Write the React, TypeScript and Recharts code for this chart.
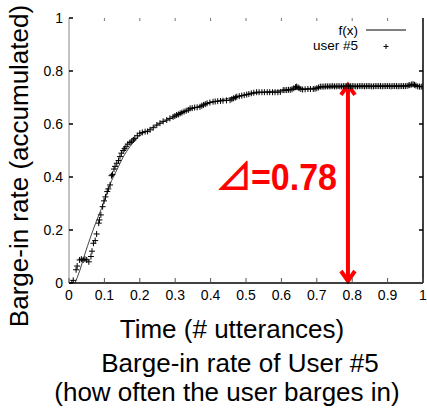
import React from 'react';
import { ComposedChart, Line, Scatter, XAxis, YAxis, ReferenceLine } from 'recharts';

const xTicks = [0, 0.1, 0.2, 0.3, 0.4, 0.5, 0.6, 0.7, 0.8, 0.9, 1];
const yTicks = [0, 0.2, 0.4, 0.6, 0.8, 1];

const fitX = [0.017, 0.03, 0.045, 0.06, 0.075, 0.092, 0.105, 0.116, 0.135, 0.153, 0.172, 0.191, 0.21, 0.23, 0.25, 0.28, 0.31, 0.35, 0.4, 0.45, 0.5, 0.55, 0.6, 0.65, 0.7, 0.8, 0.9, 1.0];
const fitY = [0, 0.045, 0.11, 0.17, 0.225, 0.282, 0.33, 0.372, 0.426, 0.475, 0.514, 0.545, 0.566, 0.582, 0.597, 0.616, 0.635, 0.658, 0.68, 0.697, 0.71, 0.72, 0.727, 0.732, 0.736, 0.74, 0.742, 0.743];

const userX = [
  0.008, 0.012, 0.02, 0.023, 0.03, 0.035, 0.04, 0.045, 0.05, 0.056, 0.062, 0.065, 0.069, 0.074, 0.078, 0.084, 0.086, 0.09, 0.095, 0.099,
  0.103, 0.108, 0.111, 0.116, 0.12, 0.123, 0.127, 0.13, 0.135, 0.14, 0.144, 0.148, 0.153, 0.157, 0.161, 0.166, 0.172, 0.177, 0.182, 0.186,
  0.193, 0.2, 0.207, 0.215, 0.222, 0.229, 0.238, 0.248, 0.257, 0.266, 0.276, 0.285, 0.294, 0.299,
  0.304, 0.309, 0.314, 0.319, 0.325, 0.331, 0.337, 0.342, 0.348, 0.355, 0.362, 0.37, 0.375, 0.38, 0.385, 0.39, 0.398, 0.407, 0.413, 0.42,
  0.428, 0.435, 0.445, 0.455, 0.46, 0.465, 0.47, 0.474, 0.481, 0.488, 0.495, 0.502, 0.508, 0.515, 0.522, 0.53, 0.537, 0.545, 0.552, 0.56,
  0.567, 0.575, 0.582, 0.59, 0.597, 0.605, 0.61, 0.615, 0.62, 0.625, 0.63, 0.635, 0.64, 0.643, 0.647, 0.65, 0.655, 0.66, 0.667, 0.675,
  0.682, 0.69, 0.695, 0.7, 0.705, 0.71, 0.715, 0.72, 0.725, 0.73, 0.735, 0.74, 0.745, 0.75, 0.755, 0.76, 0.765, 0.77, 0.775, 0.78,
  0.785, 0.79, 0.795, 0.8, 0.805, 0.81, 0.815, 0.82, 0.825, 0.83, 0.835, 0.84, 0.845, 0.85, 0.855, 0.86, 0.865, 0.87, 0.875, 0.88,
  0.885, 0.89, 0.895, 0.9, 0.905, 0.91, 0.915, 0.92, 0.925, 0.93, 0.935, 0.94, 0.945, 0.95, 0.955, 0.96, 0.963, 0.968, 0.972, 0.976,
  0.98, 0.985, 0.99, 0.995, 1.0,
];
const userY = [
  0, 0.01, 0.05, 0.064, 0.087, 0.09, 0.087, 0.09, 0.087, 0.08, 0.1, 0.12, 0.15, 0.16, 0.185, 0.226, 0.238, 0.257, 0.288, 0.31,
  0.325, 0.345, 0.355, 0.37, 0.405, 0.41, 0.43, 0.44, 0.452, 0.462, 0.477, 0.49, 0.5, 0.507, 0.514, 0.524, 0.53, 0.535, 0.54, 0.546,
  0.556, 0.565, 0.568, 0.571, 0.572, 0.578, 0.586, 0.596, 0.603, 0.61, 0.615, 0.621, 0.627, 0.63,
  0.634, 0.636, 0.64, 0.643, 0.647, 0.65, 0.653, 0.659, 0.66, 0.662, 0.663, 0.665, 0.669, 0.672, 0.675, 0.678, 0.681, 0.684, 0.685, 0.686,
  0.687, 0.688, 0.689, 0.69, 0.694, 0.697, 0.7, 0.703, 0.705, 0.707, 0.709, 0.711, 0.713, 0.716, 0.718, 0.72, 0.72, 0.72, 0.72, 0.72,
  0.72, 0.72, 0.72, 0.72, 0.721, 0.728, 0.728, 0.728, 0.729, 0.729, 0.731, 0.735, 0.739, 0.741, 0.738, 0.735, 0.732, 0.73, 0.731, 0.732,
  0.732, 0.732, 0.733, 0.735, 0.738, 0.741, 0.741, 0.741, 0.742, 0.742, 0.742, 0.742, 0.743, 0.742, 0.742, 0.743, 0.742, 0.742, 0.743, 0.743,
  0.743, 0.743, 0.742, 0.743, 0.743, 0.742, 0.742, 0.743, 0.743, 0.743, 0.742, 0.743, 0.743, 0.743, 0.742, 0.742, 0.743, 0.743, 0.743, 0.743,
  0.742, 0.743, 0.743, 0.743, 0.743, 0.742, 0.743, 0.743, 0.743, 0.742, 0.743, 0.743, 0.743, 0.743, 0.744, 0.746, 0.747, 0.749, 0.75, 0.748,
  0.745, 0.742, 0.741, 0.741, 0.741,
];

const deltaX = 0.788;
const deltaTop = 0.755;
const deltaText = '=0.78';
const legendNames = ['f(x)', 'user #5'];

const fitData = fitX.map((x, i) => ({ x, y: fitY[i] }));
const userData = userX.map((x, i) => ({ x, y: userY[i] }));

const FONT = '"Liberation Sans", Arial, sans-serif';

const BottomTick = (p: any) => (
  <g>
    <line x1={p.x} y1={p.y} x2={p.x} y2={p.y - 5} stroke="#555" strokeWidth={1} />
    <text x={p.x} y={p.y + 17} textAnchor="middle" fontSize={14} fontFamily={FONT} fill="#000">
      {p.payload.value}
    </text>
  </g>
);
const TopTick = (p: any) => (
  <line x1={p.x} y1={p.y} x2={p.x} y2={p.y + 3} stroke="#777" strokeWidth={1} />
);
const LeftTick = (p: any) => (
  <g>
    <line x1={p.x} y1={p.y} x2={p.x + 4} y2={p.y} stroke="#000" strokeWidth={1.5} />
    <text x={p.x - 6} y={p.y + 5} textAnchor="end" fontSize={14} fontFamily={FONT} fill="#000">
      {p.payload.value}
    </text>
  </g>
);
const RightTick = (p: any) => (
  <line x1={p.x} y1={p.y} x2={p.x - 4} y2={p.y} stroke="#000" strokeWidth={1.5} />
);

const Plus = (p: any) => (
  <path d={`M${p.cx - 3},${p.cy}h6M${p.cx},${p.cy - 3}v6`} stroke="#000" strokeWidth={1} fill="none" />
);

const ArrowShape = (p: any) => {
  const x = p.x1;
  const top = Math.min(p.y1, p.y2);
  const bot = Math.max(p.y1, p.y2);
  return (
    <g stroke="#ff0000" strokeWidth={4} fill="none">
      <line x1={x} y1={top + 2} x2={x} y2={bot - 2} />
      <polyline points={`${x - 7},${top + 12} ${x},${top + 2} ${x + 7},${top + 12}`} />
      <polyline points={`${x - 7},${bot - 12} ${x},${bot - 2} ${x + 7},${bot - 12}`} />
    </g>
  );
};

export default function App() {
  return (
    <div style={{ position: 'absolute', left: 0, top: 0, width: 427, height: 412, background: '#fff' }}>
      <ComposedChart width={427} height={412} margin={{ top: 17, right: 3, bottom: 128, left: 68 }}>
        <XAxis
          xAxisId={0}
          dataKey="x"
          type="number"
          domain={[0, 1]}
          ticks={xTicks}
          allowDataOverflow
          height={1}
          tickSize={0}
          tickMargin={0}
          axisLine={{ stroke: '#000', strokeWidth: 1.5 }}
          tickLine={false}
          tick={<BottomTick />}
          interval={0}
        />
        <XAxis
          xAxisId="top"
          orientation="top"
          dataKey="x"
          type="number"
          domain={[0, 1]}
          ticks={xTicks.slice(1, 10)}
          allowDataOverflow
          height={1}
          tickSize={0}
          tickMargin={0}
          axisLine={false}
          tickLine={false}
          tick={<TopTick />}
          interval={0}
        />
        <YAxis
          yAxisId={0}
          dataKey="y"
          type="number"
          domain={[0, 1]}
          ticks={yTicks}
          allowDataOverflow
          width={1}
          tickSize={0}
          tickMargin={0}
          axisLine={{ stroke: '#888', strokeWidth: 1 }}
          tickLine={false}
          tick={<LeftTick />}
          interval={0}
        />
        <YAxis
          yAxisId="right"
          orientation="right"
          dataKey="y"
          type="number"
          domain={[0, 1]}
          ticks={yTicks.slice(1, 5)}
          allowDataOverflow
          width={1}
          tickSize={0}
          tickMargin={0}
          axisLine={{ stroke: '#000', strokeWidth: 1.5 }}
          tickLine={false}
          tick={<RightTick />}
          interval={0}
        />
        <Line
          data={fitData}
          dataKey="y"
          xAxisId={0}
          yAxisId={0}
          type="monotone"
          stroke="#444"
          strokeWidth={1}
          dot={false}
          isAnimationActive={false}
        />
        <Scatter
          data={userData}
          dataKey="y"
          xAxisId={0}
          yAxisId={0}
          shape={<Plus />}
          isAnimationActive={false}
        />
        <ReferenceLine
          xAxisId={0}
          yAxisId={0}
          segment={[{ x: deltaX, y: 0 }, { x: deltaX, y: deltaTop }]}
          shape={<ArrowShape />}
          ifOverflow="visible"
        />
      </ComposedChart>
      <svg width={427} height={412} style={{ position: 'absolute', left: 0, top: 0, pointerEvents: 'none' }}>
        <text x={358} y={35} textAnchor="end" fontSize={13.5} fontFamily={FONT}>{legendNames[0]}</text>
        <line x1={366} y1={30} x2={406} y2={30} stroke="#000" strokeWidth={1} />
        <text x={358} y={50} textAnchor="end" fontSize={13.5} fontFamily={FONT}>{legendNames[1]}</text>
        <path d="M383.5,46.5h5M386,44v5" stroke="#000" strokeWidth={1} />
        <text x={216} y={190} fontSize={36} fontFamily='"Noto Sans CJK JP", "DejaVu Sans", sans-serif' fill="#ff0000" stroke="#ff0000" strokeWidth={1}>⊿</text>
        <text x={251} y={190} fontSize={36} fontWeight="bold" fontFamily={FONT} fill="#ff0000" textLength={86} lengthAdjust="spacingAndGlyphs">{deltaText}</text>
        <text x={232} y={338} textAnchor="middle" fontSize={26} fontFamily={FONT}>Time (# utterances)</text>
        <text x={240} y={372} textAnchor="middle" fontSize={26} fontFamily={FONT}>Barge-in rate of User #5</text>
        <text x={227} y={401} textAnchor="middle" fontSize={26} fontFamily={FONT}>(how often the user barges in)</text>
        <text transform="translate(28,166) rotate(-90)" textAnchor="middle" fontSize={26} fontFamily={FONT}>Barge-in rate (accumulated)</text>
      </svg>
    </div>
  );
}
